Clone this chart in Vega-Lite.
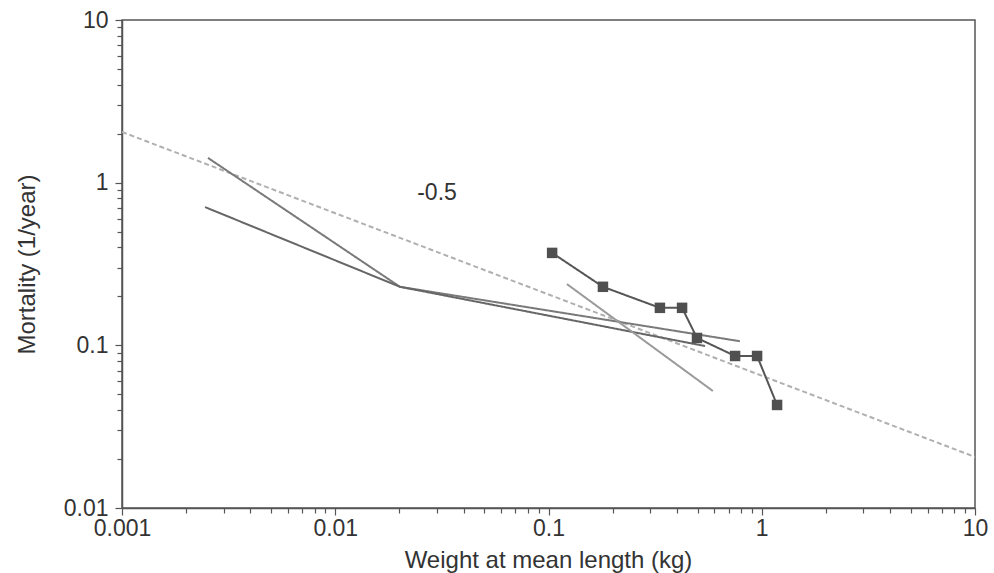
{
  "$schema": "https://vega.github.io/schema/vega-lite/v6.json",
  "width": 853,
  "height": 488,
  "autosize": {"type": "none"},
  "padding": {"left": 122, "top": 20, "right": 19, "bottom": 65},
  "background": "white",
  "config": {
    "view": {"stroke": "#555", "strokeWidth": 1.5},
    "font": "Liberation Sans",
    "axis": {
      "labelFont": "Liberation Sans",
      "titleFont": "Liberation Sans",
      "labelFontSize": 23,
      "titleFontSize": 24,
      "titleFontWeight": "normal",
      "labelColor": "#333",
      "titleColor": "#333",
      "domainColor": "#555",
      "domainWidth": 1.5,
      "tickColor": "#555",
      "tickWidth": 1.2,
      "grid": false,
      "labelOverlap": false,
      "labelBound": false,
      "labelFlush": false
    }
  },
  "datasets": {
    "lines": [
      {"series": "ref", "w": 0.001, "m": 2.05},
      {"series": "ref", "w": 10, "m": 0.0206},
      {"series": "a", "w": 0.00253, "m": 1.42},
      {"series": "a", "w": 0.0201, "m": 0.229},
      {"series": "a", "w": 0.79, "m": 0.106},
      {"series": "b", "w": 0.00245, "m": 0.708},
      {"series": "b", "w": 0.0201, "m": 0.229},
      {"series": "b", "w": 0.542, "m": 0.099},
      {"series": "c", "w": 0.122, "m": 0.238},
      {"series": "c", "w": 0.59, "m": 0.0524},
      {"series": "sq", "w": 0.104, "m": 0.37},
      {"series": "sq", "w": 0.18, "m": 0.229},
      {"series": "sq", "w": 0.333, "m": 0.17},
      {"series": "sq", "w": 0.423, "m": 0.17},
      {"series": "sq", "w": 0.497, "m": 0.111},
      {"series": "sq", "w": 0.75, "m": 0.086},
      {"series": "sq", "w": 0.951, "m": 0.086},
      {"series": "sq", "w": 1.18, "m": 0.043}
    ],
    "labels": [
      {"w": 0.03, "m": 0.863, "text": "-0.5"}
    ]
  },
  "layer": [
    {
      "data": {"name": "lines"},
      "mark": {"type": "line", "clip": true, "strokeWidth": 2},
      "encoding": {
        "x": {
          "field": "w",
          "type": "quantitative",
          "scale": {"type": "log", "domain": [0.001, 10], "nice": false},
          "axis": {
            "title": "Weight at mean length (kg)",
            "titleX": 426,
            "titleY": 59,
            "titleAlign": "center",
            "titleBaseline": "alphabetic",
            "values": [0.001,0.002,0.003,0.004,0.005,0.006,0.007,0.008,0.009,0.01,0.02,0.03,0.04,0.05,0.06,0.07,0.08,0.09,0.1,0.2,0.3,0.4,0.5,0.6,0.7,0.8,0.9,1,2,3,4,5,6,7,8,9,10],
            "labelExpr": "abs(log(datum.value)/LN10 - round(log(datum.value)/LN10)) < 0.000001 ? format(datum.value, '~g') : ''",
            "tickSize": {"condition": {"test": "abs(log(datum.value)/LN10 - round(log(datum.value)/LN10)) < 0.000001", "value": 7}, "value": 5},
            "labelPadding": 2
          }
        },
        "y": {
          "field": "m",
          "type": "quantitative",
          "scale": {"type": "log", "domain": [0.01, 10], "nice": false},
          "axis": {
            "title": "Mortality (1/year)",
            "titleX": -95,
            "titleY": 244,
            "titleAngle": 270,
            "titleAlign": "center",
            "titleBaseline": "middle",
            "values": [0.01,0.02,0.03,0.04,0.05,0.06,0.07,0.08,0.09,0.1,0.2,0.3,0.4,0.5,0.6,0.7,0.8,0.9,1,2,3,4,5,6,7,8,9,10],
            "labelExpr": "abs(log(datum.value)/LN10 - round(log(datum.value)/LN10)) < 0.000001 ? format(datum.value, '~g') : ''",
            "tickSize": {"condition": {"test": "abs(log(datum.value)/LN10 - round(log(datum.value)/LN10)) < 0.000001", "value": 7}, "value": 5},
            "labelPadding": 7
          }
        },
        "detail": {"field": "series"},
        "color": {
          "field": "series",
          "type": "nominal",
          "scale": {"domain": ["ref", "a", "b", "c", "sq"], "range": ["#b0b0b0", "#7a7a7a", "#666666", "#9a9a9a", "#555555"]},
          "legend": null
        },
        "strokeDash": {
          "field": "series",
          "type": "nominal",
          "scale": {"domain": ["ref", "a", "b", "c", "sq"], "range": [[5, 3], [1, 0], [1, 0], [1, 0], [1, 0]]},
          "legend": null
        }
      }
    },
    {
      "data": {"name": "lines"},
      "transform": [{"filter": "datum.series === 'sq'"}],
      "mark": {"type": "square", "filled": true, "color": "#505050", "opacity": 1, "size": 110},
      "encoding": {
        "x": {"field": "w", "type": "quantitative"},
        "y": {"field": "m", "type": "quantitative"}
      }
    },
    {
      "data": {"name": "labels"},
      "mark": {"type": "text", "fontSize": 23, "font": "Liberation Sans", "color": "#333", "align": "center", "baseline": "middle"},
      "encoding": {
        "x": {"field": "w", "type": "quantitative"},
        "y": {"field": "m", "type": "quantitative"},
        "text": {"field": "text"}
      }
    }
  ]
}
